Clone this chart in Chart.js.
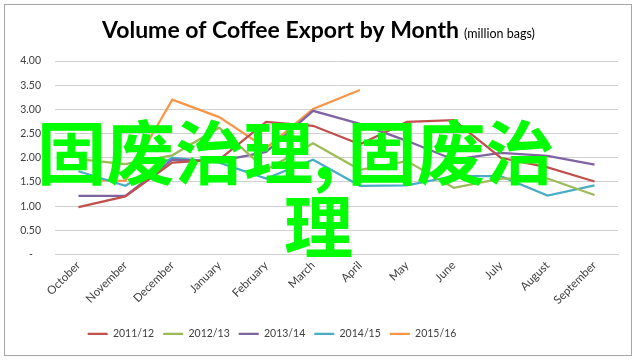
<!DOCTYPE html>
<html>
<head>
<meta charset="utf-8">
<script src="https://cdn.jsdelivr.net/npm/chart.js@4.4.1/dist/chart.umd.min.js"></script>
<style>
  html, body { margin: 0; padding: 0; background: #ffffff; }
  #wrap { position: relative; width: 637px; height: 360px; overflow: hidden; }
  #frame { position: absolute; left: 4px; top: 4px; width: 628px; height: 352px; border: 1px solid #a6a6a6; box-sizing: border-box; pointer-events: none; }
  canvas { position: absolute; left: 0; top: 0; }
  .ov { position: absolute; color: #00ff00; font-family: "Noto Sans CJK SC", sans-serif; font-weight: bold; font-size: 69px; line-height: 69px; white-space: nowrap; }
  .cm { margin-right: 12px; }
</style>
</head>
<body>
<div id="wrap">
  <canvas id="c" width="637" height="360"></canvas>
  <div id="frame"></div>
  <div class="ov" style="left:37px; top:115px;">固废治理<span class="cm">,</span>固废治</div>
  <div class="ov" style="left:284px; top:189px;">理</div>
</div>
<script>
const months = ['October','November','December','January','February','March','April','May','June','July','August','September'];
const yTicks = [0, 0.5, 1, 1.5, 2, 2.5, 3, 3.5, 4];
const seriesNames = ['2011/12', '2012/13', '2013/14', '2014/15', '2015/16'];
const v2011 = [0.98, 1.20, 1.90, 1.96, 2.74, 2.66, 2.28, 2.74, 2.78, 2.00, 1.80, 1.51];
const v2012 = [1.97, 1.87, 2.05, 2.62, 1.75, 2.30, 1.75, 1.93, 1.38, 1.57, 1.57, 1.23];
const v2013 = [1.21, 1.21, 1.96, 1.93, 2.12, 2.97, 2.70, 2.35, 1.96, 2.10, 2.04, 1.86];
const v2014 = [1.72, 1.42, 2.00, 1.90, 1.57, 1.96, 1.42, 1.43, 1.62, 1.62, 1.22, 1.43];
const v2015 = [1.55, 1.52, 3.20, 2.84, 2.20, 3.01, 3.40, null, null, null, null, null];
const colors = ['#C0504D', '#9BBB59', '#8064A2', '#4BACC6', '#F79646'];
const titleMain = 'Volume of Coffee Export by Month';
const titleSub = '(million bags)';

const allValues = [v2011, v2012, v2013, v2014, v2015];

const titlePlugin = {
  id: 'titlePlugin',
  afterLayout(chart) {
    const l = chart.legend;
    if (l) { l.left -= 41; l.right -= 41; }
  },
  afterDraw(chart) {
    const ctx = chart.ctx;
    ctx.save();
    ctx.textBaseline = 'alphabetic';
    ctx.font = 'bold 23px Lato, sans-serif';
    const w1 = ctx.measureText(titleMain).width;
    ctx.font = '12.5px Lato, sans-serif';
    const w2 = ctx.measureText(titleSub).width;
    const gap = 5;
    const total = w1 + gap + w2;
    const x0 = (637 - total) / 2;
    ctx.fillStyle = '#000000';
    ctx.font = 'bold 23px Lato, sans-serif';
    ctx.textAlign = 'left';
    ctx.fillText(titleMain, x0, 38);
    ctx.font = '12.5px Lato, sans-serif';
    ctx.fillText(titleSub, x0 + w1 + gap, 38);
    ctx.restore();
  }
};

new Chart(document.getElementById('c'), {
  type: 'line',
  data: {
    labels: months,
    datasets: seriesNames.map((n, i) => ({
      label: n,
      data: allValues[i],
      borderColor: colors[i],
      backgroundColor: colors[i],
      borderWidth: 2.25,
      pointRadius: 0,
      pointHoverRadius: 0,
      tension: 0,
      fill: false,
      spanGaps: false
    }))
  },
  options: {
    responsive: false,
    devicePixelRatio: 1,
    animation: false,
    layout: { padding: { left: 8, right: 19, top: 61, bottom: 11 } },
    plugins: {
      title: { display: false },
      tooltip: { enabled: false },
      legend: {
        position: 'bottom',
        labels: {
          usePointStyle: true,
          pointStyle: 'line',
          pointStyleWidth: 20,
          boxHeight: 11,
          padding: 9,
          color: '#404040',
          font: { family: 'Lato, sans-serif', size: 10.5 }
        }
      }
    },
    scales: {
      y: {
        min: 0,
        max: 4,
        afterBuildTicks: (s) => { s.ticks = yTicks.map(v => ({ value: v })); },
        afterFit: (s) => { s.width = 47; },
        border: { display: false },
        grid: { color: '#d0d0d0', lineWidth: 1, drawTicks: false },
        ticks: {
          padding: 14,
          color: '#404040',
          font: { family: 'Lato, sans-serif', size: 10.5 },
          callback: (v) => v === 0 ? '-   ' : Number(v).toFixed(2)
        }
      },
      x: {
        offset: true,
        border: { display: true, color: '#d0d0d0' },
        grid: { display: false, drawTicks: false },
        afterFit: (s) => { s.height = 65; },
        ticks: {
          autoSkip: false,
          minRotation: 45,
          maxRotation: 45,
          padding: 4,
          color: '#404040',
          font: { family: 'Lato, sans-serif', size: 11.5 }
        }
      }
    }
  },
  plugins: [titlePlugin]
});
</script>
</body>
</html>
